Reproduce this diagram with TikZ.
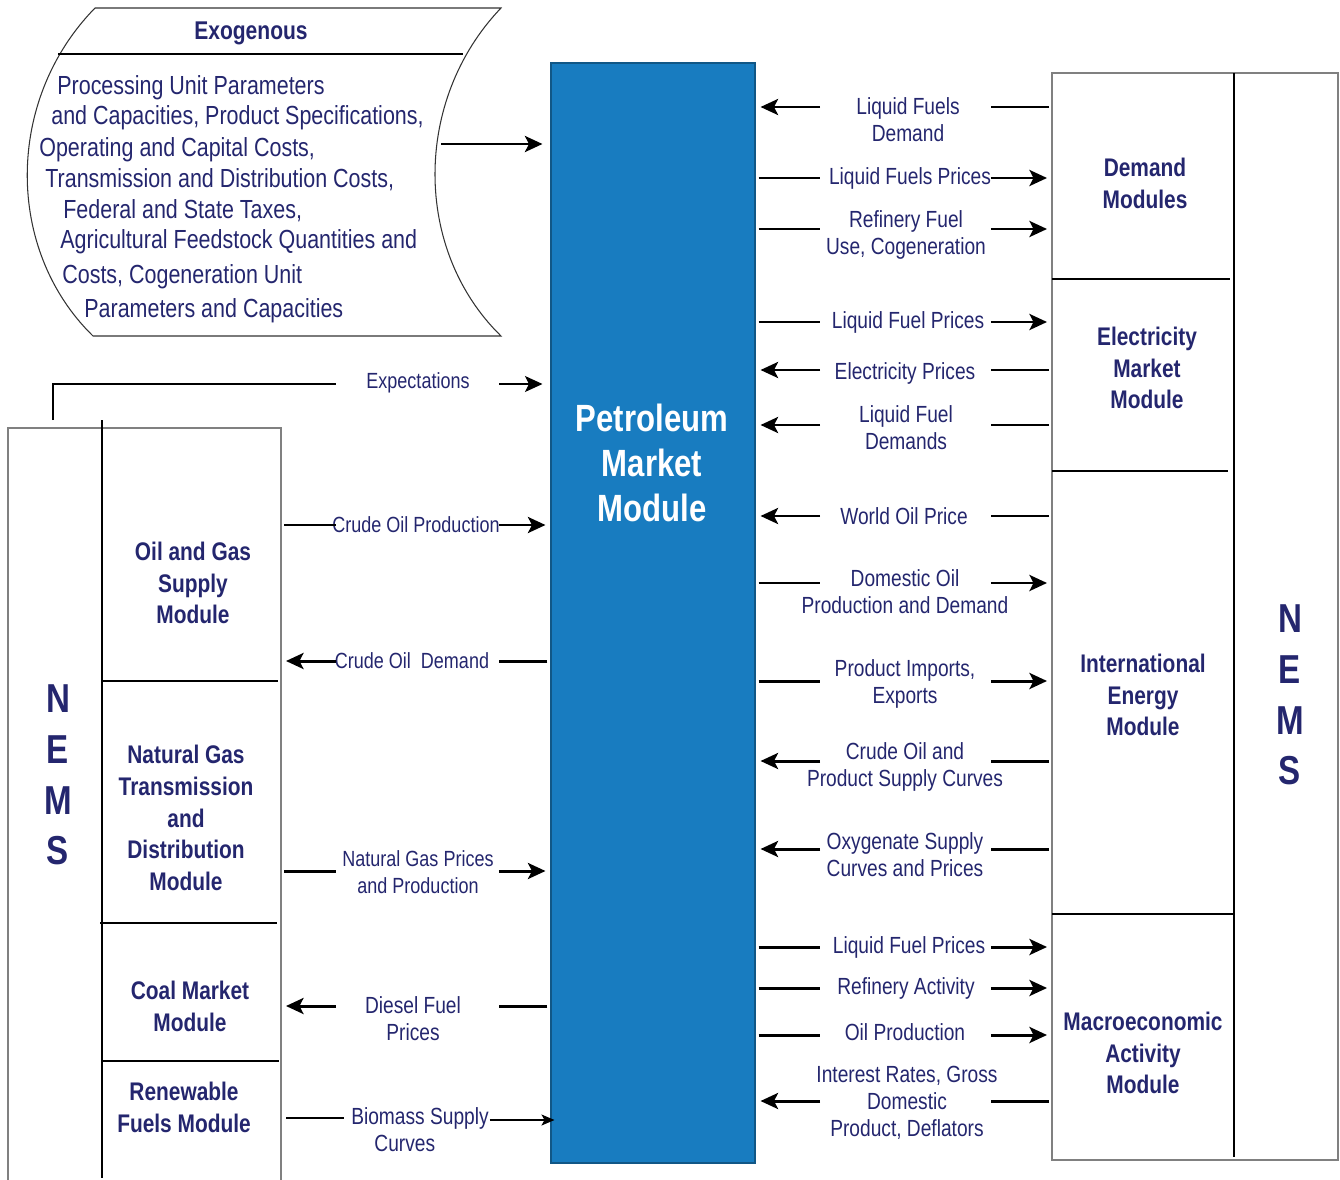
\documentclass[tikz,border=0pt]{standalone}
\usepackage{fontspec}
\setmainfont{Liberation Sans}[FakeStretch=0.82]
\usetikzlibrary{arrows.meta,calc,fit}

\definecolor{pmmblue}{RGB}{24,124,192}
\definecolor{navy}{RGB}{36,38,110}

\tikzset{
	graybox/.style={draw=black!50, line width=0.6pt},
	divider/.style={line width=0.6pt},
	cell/.style={inner sep=0pt, outer sep=0pt},
	pmmbox/.style={fill=pmmblue, draw=pmmblue!70!black, line width=0.6pt, inner sep=0pt},
	pmmtxt/.style={text=white, font=\bfseries\fontsize{21.6}{25.8}\selectfont, align=center},
	modtxt/.style={text=navy, font=\bfseries\fontsize{14.5}{18.1}\selectfont, align=center},
	nemstxt/.style={text=navy, font=\bfseries\fontsize{23}{28.9}\selectfont, align=center},
	exotxt/.style={text=navy, font=\fontsize{14.9}{17.6}\selectfont, inner sep=0pt, anchor=west},
	flowlbl/.style={text=navy, font=\fontsize{13.3}{15.4}\selectfont, align=center, inner sep=0pt},
	smalllbl/.style={flowlbl, font=\fontsize{12.5}{15.6}\selectfont},
	flowline/.style={line width=1.7pt},
	thinline/.style={line width=0.6pt},
	arrowed/.style={-{Stealth[length=0.35cm,width=0.32cm,inset=0.08cm]}},
	smallarrow/.style={-{Stealth[length=0.26cm,width=0.22cm,inset=0.06cm]}},
}

% connector with a gap for its label: from, to, point on the line, half gap
\newcommand\flowlink[4]{%
	\draw[flowline,shorten <=0.06cm] (#1 |- #3) -- ($(#3)!#4!(#1 |- #3)$);
	\draw[flowline,arrowed,shorten >=0.1cm] ($(#3)!#4!(#2 |- #3)$) -- (#2 |- #3);}

\begin{document}
\begin{tikzpicture}[x=0.02cm,y=-0.02cm]
	%%%%% START %%%%%
	\useasboundingbox (0,0) rectangle (1340,1180);
	
	\node[pmmbox, fit={(551,63) (755,1163)}] (pmm) {};
	\node[pmmtxt] (pmmlbl) at (652,463) {Petroleum\\Market\\Module};
	
	%% exogenous inputs
	\draw[black!80, line width=0.6pt] (95,8) -- (501,8) .. controls (413,100) and (413,250) .. (501,336)
		-- (93,336) .. controls (5,250) and (5,100) .. (95,8) -- cycle;
	\draw[line width=0.6pt] (58,54) -- (463,54);
	\node[text=navy, font=\bfseries\fontsize{14.6}{17}\selectfont] (exohead) at (251,33) {Exogenous};
	\foreach \x/\y/\t [count=\i] in {57/88/{Processing Unit Parameters},
		51/118/{and Capacities, Product Specifications,}, 39/150/{Operating and Capital Costs,},
		45/180/{Transmission and Distribution Costs,}, 63/211/{Federal and State Taxes,},
		60/242/{Agricultural Feedstock Quantities and}, 62/277/{Costs, Cogeneration Unit},
		84/311/{Parameters and Capacities}}
		\node[exotxt] (exo\i) at (\x,\y) {\t};
	\coordinate (exoout) at (441,144);
	\draw[flowline,arrowed,shorten >=0.16cm] (exoout) -- (pmm.west |- exoout);
	
	%% right NEMS block
	\node[cell, fit={(1052,73) (1234,279)}] (dm) {};
	\node[cell, fit={(1052,279) (1234,471)}] (el) {};
	\node[cell, fit={(1052,471) (1234,914)}] (ie) {};
	\node[cell, fit={(1052,914) (1234,1160)}] (ma) {};
	\node[cell, fit={(1234,73) (1338,1160)}] (nemsR) {};
	\draw[graybox] (1052,73) rectangle (1338,1160);
	\draw[divider] (1234,73) -- (1234,1157);
	\draw[divider] (1052,279) -- (1230,279);
	\draw[divider] (1052,471) -- (1228,471);
	\draw[divider] (1052,914) -- (1234,914);
	\node[modtxt] (dmtxt) at (1145,183) {Demand\\Modules};
	\node[modtxt] (eltxt) at (1147,368) {Electricity\\Market\\Module};
	\node[modtxt] (ietxt) at (1143,695) {International\\Energy\\Module};
	\node[modtxt] (matxt) at (1143,1053) {Macroeconomic\\Activity\\Module};
	\node[nemstxt] (nemsRtxt) at (1290,695) {N\\E\\M\\S};
	
	%% left NEMS block
	\node[cell, fit={(8,428) (102,1180)}] (nemsL) {};
	\node[cell, fit={(102,428) (281,681)}] (og) {};
	\node[cell, fit={(102,681) (281,923)}] (ng) {};
	\node[cell, fit={(102,923) (281,1061)}] (coal) {};
	\node[cell, fit={(102,1061) (281,1180)}] (rf) {};
	\draw[graybox] (8,1185) -- (8,428) -- (281,428) -- (281,1185);
	\draw[divider] (102,420) -- (102,1178);
	\draw[divider] (102,681) -- (278,681);
	\draw[divider] (100,923) -- (277,923);
	\draw[divider] (102,1061) -- (279,1061);
	\node[nemstxt] (nemsLtxt) at (58,775) {N\\E\\M\\S};
	\node[modtxt] (ogtxt) at (193,583) {Oil and Gas\\Supply\\Module};
	\node[modtxt] (ngtxt) at (186,818) {Natural Gas\\Transmission\\and\\Distribution\\Module};
	\node[modtxt] (coaltxt) at (190,1006) {Coal Market\\Module};
	\node[modtxt] (rftxt) at (184,1107) {Renewable\\Fuels Module};
	
	%% flows on the right
	\coordinate (r1) at (905.5,107);
	\node[flowlbl] (r1l) at (908,120) {Liquid Fuels\\Demand};
	\flowlink{dm.west}{pmm.east}{r1}{1.71cm}
	\coordinate (r2) at (905.5,178);
	\node[flowlbl] (r2l) at (910,178) {Liquid Fuels Prices};
	\flowlink{pmm.east}{dm.west}{r2}{1.71cm}
	\coordinate (r3) at (905.5,229);
	\node[flowlbl] (r3l) at (906,235) {Refinery Fuel\\Use, Cogeneration};
	\flowlink{pmm.east}{dm.west}{r3}{1.71cm}
	\coordinate (r4) at (905.5,322);
	\node[flowlbl] (r4l) at (908,322) {Liquid Fuel Prices};
	\flowlink{pmm.east}{el.west}{r4}{1.71cm}
	\coordinate (r5) at (905.5,370);
	\node[flowlbl] (r5l) at (905,373) {Electricity Prices};
	\flowlink{el.west}{pmm.east}{r5}{1.71cm}
	\coordinate (r6) at (905.5,425);
	\node[flowlbl] (r6l) at (906,428) {Liquid Fuel\\Demands};
	\flowlink{el.west}{pmm.east}{r6}{1.71cm}
	\coordinate (r7) at (905.5,516);
	\node[flowlbl] (r7l) at (904,516) {World Oil Price};
	\flowlink{ie.west}{pmm.east}{r7}{1.71cm}
	\coordinate (r8) at (905.5,583);
	\node[flowlbl] (r8l) at (905,592) {Domestic Oil\\Production and Demand};
	\flowlink{pmm.east}{ie.west}{r8}{1.71cm}
	\coordinate (r9) at (905.5,681);
	\node[flowlbl] (r9l) at (905,684) {Product Imports,\\Exports};
	\flowlink{pmm.east}{ie.west}{r9}{1.71cm}
	\coordinate (r10) at (905.5,761);
	\node[flowlbl] (r10l) at (905,767) {Crude Oil and\\Product Supply Curves};
	\flowlink{ie.west}{pmm.east}{r10}{1.71cm}
	\coordinate (r11) at (905.5,849);
	\node[flowlbl] (r11l) at (905,855) {Oxygenate Supply\\Curves and Prices};
	\flowlink{ie.west}{pmm.east}{r11}{1.71cm}
	\coordinate (r12) at (905.5,947);
	\node[flowlbl] (r12l) at (909,947) {Liquid Fuel Prices};
	\flowlink{pmm.east}{ma.west}{r12}{1.71cm}
	\coordinate (r13) at (905.5,988);
	\node[flowlbl] (r13l) at (906,988) {Refinery Activity};
	\flowlink{pmm.east}{ma.west}{r13}{1.71cm}
	\coordinate (r14) at (905.5,1035);
	\node[flowlbl] (r14l) at (905,1032) {Oil Production};
	\flowlink{pmm.east}{ma.west}{r14}{1.71cm}
	\coordinate (r15) at (905.5,1101);
	\node[flowlbl] (r15l) at (907,1103) {Interest Rates, Gross\\Domestic\\Product, Deflators};
	\flowlink{ma.west}{pmm.east}{r15}{1.71cm}
	
	%% flows on the left
	\coordinate (ex) at (417.5,384);
	\node[smalllbl] (exl) at (418,383) {Expectations};
	\draw[thinline] ($(nemsL.north)+(-2,-8)$) |- ($(ex)+(-81.5,0)$);
	\draw[thinline,arrowed,shorten >=0.16cm] ($(ex)+(81.5,0)$) -- (pmm.west |- ex);
	\coordinate (l1) at (417.5,525);
	\node[smalllbl] (l1l) at (416,525) {Crude Oil Production};
	\flowlink{og.east}{pmm.west}{l1}{1.63cm}
	\coordinate (l2) at (417.5,661);
	\node[smalllbl] (l2l) at (412,661) {Crude Oil~ Demand};
	\flowlink{pmm.west}{og.east}{l2}{1.63cm}
	\coordinate (l3) at (417.5,871);
	\node[smalllbl] (l3l) at (418,872) {Natural Gas Prices\\and Production};
	\flowlink{ng.east}{pmm.west}{l3}{1.63cm}
	\coordinate (l4) at (417.5,1006);
	\node[flowlbl] (l4l) at (413,1019) {Diesel Fuel\\Prices};
	\flowlink{pmm.west}{coal.east}{l4}{1.63cm}
	\coordinate (l5) at (417.5,1118);
	\node[flowlbl] (l5l) at (420,1130) {Biomass Supply\\Curves\hspace*{1.3em}};
	\draw[thinline,shorten <=0.1cm] (rf.east |- l5) -- ($(l5)+(-74,0)$);
	\draw[thinline,smallarrow] ($(l5)+(72,2)$) -- ($(pmm.west |- l5)+(4,2)$);
	
	%%%%% END %%%%%
\end{tikzpicture}
\end{document}
